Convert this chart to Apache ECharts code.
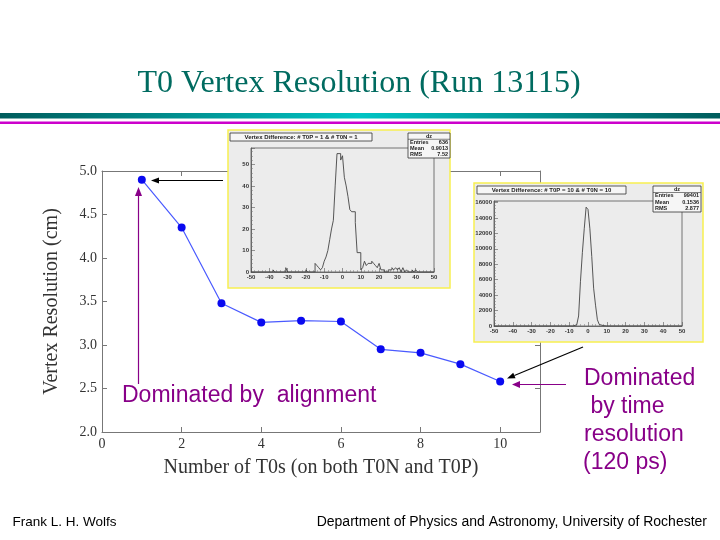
<!DOCTYPE html>
<html>
<head>
<meta charset="utf-8">
<title>T0 Vertex Resolution (Run 13115)</title>
<script src="https://cdn.jsdelivr.net/npm/echarts@6/dist/echarts.min.js"></script>
<style>
  html, body { margin: 0; padding: 0; background: #fff; }
  #main { width: 720px; height: 540px; }
</style>
</head>
<body>
<div id="main"></div>
<script>
// main plot: vertex resolution vs number of T0s
const nT0 = [1, 2, 3, 4, 5, 6, 7, 8, 9, 10];
const resolution = [4.90, 4.35, 3.48, 3.26, 3.28, 3.27, 2.95, 2.91, 2.78, 2.58];

// inset histograms of dz, 100 bins of width 1 starting at -50
const histMin = -50;
const binWidth = 1;
const dzOne = [
  0, 0, 0, 0, 0, 0, 0, 0, 0, 0,
  0, 0, 1, 0, 0, 0, 0, 0, 0, 2,
  0, 0, 0, 0, 0, 0, 0, 0, 0, 0,
  1, 0, 0, 0, 0, 4, 3, 2, 1, 2,
  5, 7, 10, 15, 20, 24, 40, 55, 55, 52,
  54, 44, 40, 35, 29, 28, 28, 23, 9, 9,
  1, 2, 5, 3, 4, 4, 5, 4, 3, 2,
  4, 1, 1, 0, 0, 1, 1, 2, 1, 2,
  1, 2, 0, 2, 0, 1, 0, 0, 1, 0,
  1, 0, 0, 0, 0, 0, 0, 0, 0, 0
];
const dzTen = [
  0, 0, 0, 0, 0, 0, 0, 0, 0, 0,
  0, 0, 0, 0, 0, 0, 0, 0, 0, 0,
  0, 0, 0, 0, 0, 0, 0, 0, 0, 0,
  0, 0, 0, 0, 0, 0, 0, 0, 0, 0,
  0, 0, 30, 150, 400, 1300, 5800, 9500, 12600, 15400,
  15100, 12600, 9000, 4900, 2700, 800, 200, 60, 20, 0,
  0, 0, 0, 0, 0, 0, 0, 0, 0, 0,
  0, 0, 0, 0, 0, 0, 0, 0, 0, 0,
  0, 0, 0, 0, 0, 0, 0, 0, 0, 0,
  0, 0, 0, 0, 0, 0, 0, 0, 0, 0
];
const statsOne = [['Entries', '636'], ['Mean', '0.9013'], ['RMS', '7.52']];
const statsTen = [['Entries', '99401'], ['Mean', '0.1536'], ['RMS', '2.877']];

const purple = '#880088';
const serif = '"Liberation Serif", "Times New Roman", serif';
const sans = '"Liberation Sans", Arial, sans-serif';

const chart = echarts.init(document.getElementById('main'));

function histData(counts) {
    const pts = counts.map((c, i) => [histMin + i * binWidth, c]);
    pts.push([histMin + counts.length * binWidth, counts[counts.length - 1]]);
    return pts;
}

function insetX(gridIndex) {
    return {
        gridIndex: gridIndex, type: 'value', min: -50, max: 50, interval: 10, z: 6,
        axisLine: { onZero: false, lineStyle: { color: '#555', width: 0.8 } },
        axisTick: { inside: true, length: 4, lineStyle: { color: '#555', width: 0.6 } },
        minorTick: { show: true, splitNumber: 5, length: 2, lineStyle: { color: '#777', width: 0.5 } },
        splitLine: { show: false },
        axisLabel: { fontSize: 6, fontWeight: 'bold', fontFamily: sans, color: '#333', margin: 2 }
    };
}

function insetY(gridIndex, max, interval) {
    return {
        gridIndex: gridIndex, type: 'value', min: 0, max: max, interval: interval, z: 6,
        axisLine: { show: true, onZero: false, lineStyle: { color: '#555', width: 0.8 } },
        axisTick: { show: true, inside: true, length: 4, lineStyle: { color: '#555', width: 0.6 } },
        minorTick: { show: true, splitNumber: 5, length: 2, lineStyle: { color: '#777', width: 0.5 } },
        splitLine: { show: false },
        axisLabel: { fontSize: 6, fontWeight: 'bold', fontFamily: sans, color: '#333', margin: 2,
            showMaxLabel: false, formatter: v => String(v) }
    };
}

function mainAxisStyle() {
    return {
        axisLine: { show: true, onZero: false, lineStyle: { color: '#777', width: 1 } },
        axisTick: { show: true, inside: true, length: 5, lineStyle: { color: '#777', width: 1 } },
        splitLine: { show: false }
    };
}

function arrow(x1, y1, x2, y2, color, head, half) {
    const dx = x2 - x1, dy = y2 - y1, len = Math.hypot(dx, dy);
    const ux = dx / len, uy = dy / len;
    const bx = x2 - ux * head, by = y2 - uy * head;
    return [
        { type: 'line', z: 9, shape: { x1: x1, y1: y1, x2: bx, y2: by }, style: { stroke: color, lineWidth: 1.2 } },
        { type: 'polygon', z: 9, shape: { points: [[x2, y2], [bx - uy * half, by + ux * half], [bx + uy * half, by - ux * half]] }, style: { fill: color } }
    ];
}

function label(text, x, y, font, fill, align) {
    return {
        type: 'text', x: x, y: y, z: 9,
        style: { text: text, font: font, fill: fill, align: align || 'left', textAlign: align || 'left', verticalAlign: 'middle', textVerticalAlign: 'middle' }
    };
}

// inset frame: background, title box and stats box
function insetDecor(box, titleBox, title, statBox, stats) {
    const els = [
        { type: 'rect', z: 5, shape: box, style: { fill: '#ececec', stroke: '#f8f050', lineWidth: 1.5 } },
        { type: 'rect', z: 8, shape: titleBox, style: { fill: '#f6f6f6', stroke: '#333', lineWidth: 0.8 } },
        label(title, titleBox.x + titleBox.width / 2, titleBox.y + titleBox.height / 2, 'bold 6px ' + sans, '#222', 'center'),
        { type: 'rect', z: 8, shape: statBox, style: { fill: '#f6f6f6', stroke: '#333', lineWidth: 0.8 } }
    ];
    const rowH = statBox.height / 4;
    els.push(label('dz', statBox.x + statBox.width / 2, statBox.y + rowH / 2, 'bold 5.5px ' + sans, '#222', 'center'));
    els.push({ type: 'line', z: 9, shape: { x1: statBox.x, y1: statBox.y + rowH, x2: statBox.x + statBox.width, y2: statBox.y + rowH }, style: { stroke: '#333', lineWidth: 0.6 } });
    stats.forEach(function (s, i) {
        const y = statBox.y + rowH * (i + 1.5);
        els.push(label(s[0], statBox.x + 2, y, 'bold 5.5px ' + sans, '#222', 'left'));
        els.push(label(s[1], statBox.x + statBox.width - 2, y, 'bold 5.5px ' + sans, '#222', 'right'));
    });
    return els;
}

let graphics = [
    { type: 'rect', z: 1, shape: { x: 0, y: 113, width: 720, height: 5.5 },
      style: { fill: new echarts.graphic.LinearGradient(0, 0, 1, 0, [
          { offset: 0, color: '#005c5c' }, { offset: 0.5, color: '#00c4c4' }, { offset: 1, color: '#005c5c' }]) } },
    { type: 'rect', z: 1, shape: { x: 0, y: 121.5, width: 720, height: 2.5 }, style: { fill: '#cc00cc' } },
    label('T0 Vertex Resolution (Run 13115)', 359, 84, '32px ' + serif, '#006b60', 'center'),
    label('Frank L. H. Wolfs', 12.5, 522.5, '13.5px ' + sans, '#000', 'left'),
    label('Department of Physics and Astronomy, University of Rochester', 707, 522.5, '14px ' + sans, '#000', 'right'),
    label('Dominated by  alignment', 122, 395.5, '23px ' + sans, purple, 'left'),
    label('Dominated', 584, 379, '23px ' + sans, purple, 'left'),
    label(' by time', 584, 406.5, '23px ' + sans, purple, 'left'),
    label('resolution', 584, 435, '23px ' + sans, purple, 'left'),
    label('(120 ps)', 583, 462.5, '23px ' + sans, purple, 'left')
];
graphics = graphics.concat(
    insetDecor({ x: 228, y: 130, width: 222, height: 158 }, { x: 230, y: 133, width: 142, height: 8 },
        'Vertex Difference: # T0P = 1 & # T0N = 1', { x: 408, y: 133, width: 42, height: 25 }, statsOne),
    insetDecor({ x: 474, y: 183, width: 229, height: 159 }, { x: 477, y: 186, width: 149, height: 8 },
        'Vertex Difference: # T0P = 10 & # T0N = 10', { x: 653, y: 186, width: 48, height: 26 }, statsTen),
    arrow(138.5, 384, 138.5, 187, purple, 9, 3.5),
    arrow(223, 180.5, 151, 180.5, '#000', 8, 3),
    arrow(583, 347, 507, 378.5, '#000', 8, 3),
    arrow(566, 384.5, 512, 384.5, purple, 8, 3.5)
);

const option = {
    animation: false,
    backgroundColor: '#fff',
    grid: [
        { left: 102, top: 171, width: 438, height: 261 },
        { left: 251, top: 148, width: 183, height: 124, show: true, z: 6, backgroundColor: '#ececec', borderColor: '#555', borderWidth: 0.8 },
        { left: 494, top: 201, width: 188, height: 125, show: true, z: 6, backgroundColor: '#ececec', borderColor: '#555', borderWidth: 0.8 }
    ],
    xAxis: [
        Object.assign(mainAxisStyle(), {
            gridIndex: 0, type: 'value', min: 0, max: 11, interval: 2, position: 'bottom',
            name: 'Number of T0s (on both T0N and T0P)', nameLocation: 'middle', nameGap: 26,
            nameTextStyle: { fontFamily: serif, fontSize: 20, color: '#333' },
            axisLabel: { fontFamily: serif, fontSize: 14, color: '#333', margin: 5, showMaxLabel: false }
        }),
        Object.assign(mainAxisStyle(), {
            gridIndex: 0, type: 'value', min: 0, max: 11, interval: 2, position: 'top',
            axisLabel: { show: false }
        }),
        insetX(1),
        insetX(2)
    ],
    yAxis: [
        Object.assign(mainAxisStyle(), {
            gridIndex: 0, type: 'value', min: 2, max: 5, interval: 0.5, position: 'left',
            name: 'Vertex Resolution (cm)', nameLocation: 'middle', nameGap: 40, nameRotate: 90,
            nameTextStyle: { fontFamily: serif, fontSize: 20, color: '#333' },
            axisLabel: { fontFamily: serif, fontSize: 14, color: '#333', margin: 5, formatter: v => v.toFixed(1) }
        }),
        Object.assign(mainAxisStyle(), {
            gridIndex: 0, type: 'value', min: 2, max: 5, interval: 0.5, position: 'right',
            axisLabel: { show: false }
        }),
        insetY(1, 57.6, 10),
        insetY(2, 16200, 2000)
    ],
    series: [
        {
            type: 'line', xAxisIndex: 0, yAxisIndex: 0, z: 3,
            data: nT0.map((n, i) => [n, resolution[i]]),
            symbol: 'circle', symbolSize: 8,
            itemStyle: { color: '#0a0af0' },
            lineStyle: { color: '#4a5aff', width: 1.2 }
        },
        {
            type: 'line', xAxisIndex: 2, yAxisIndex: 2, z: 7, step: 'end', showSymbol: false,
            data: histData(dzOne), lineStyle: { color: '#444', width: 0.9 }
        },
        {
            type: 'line', xAxisIndex: 3, yAxisIndex: 3, z: 7, step: 'end', showSymbol: false,
            data: histData(dzTen), lineStyle: { color: '#444', width: 0.9 }
        }
    ],
    graphic: { elements: graphics }
};

chart.setOption(option);
</script>
</body>
</html>
